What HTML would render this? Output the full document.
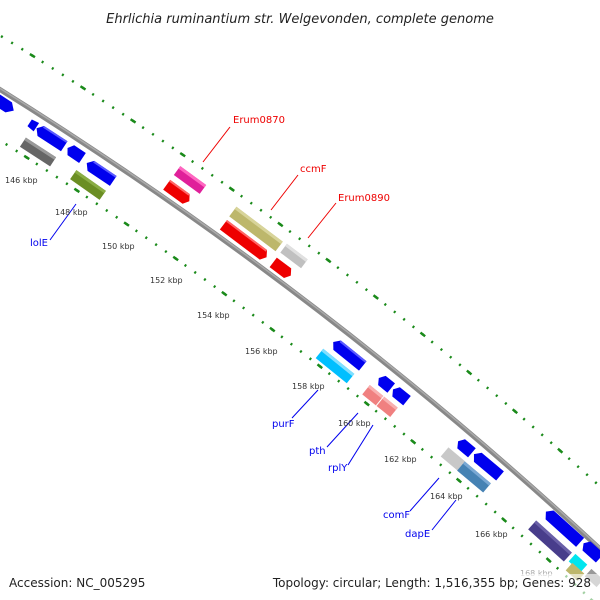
<!DOCTYPE html>
<html><head><meta charset="utf-8"><style>
html,body{margin:0;padding:0;background:#fff;width:600px;height:600px;overflow:hidden}
svg{display:block}
text{font-family:"DejaVu Sans","Liberation Sans",sans-serif}
</style></head><body>
<svg width="600" height="600" viewBox="0 0 600 600" xmlns="http://www.w3.org/2000/svg">
<defs>
<clipPath id="c"><rect x="0" y="0" width="600" height="600"/></clipPath>
</defs>
<g clip-path="url(#c)">
<circle cx="-2103" cy="3458" r="4017" fill="none" stroke="#1a8a1a" stroke-width="2.5" stroke-dasharray="2 10"/>
<circle cx="-2103" cy="3458" r="4017" fill="none" stroke="#1a8a1a" stroke-width="2.5" stroke-dasharray="6 54" stroke-dashoffset="2"/>
<circle cx="-2103" cy="3458" r="3928" fill="none" stroke="#1a8a1a" stroke-width="2.5" stroke-dasharray="2 10"/>
<circle cx="-2103" cy="3458" r="3928" fill="none" stroke="#1a8a1a" stroke-width="2.5" stroke-dasharray="6 54" stroke-dashoffset="2"/>
<circle cx="-2103" cy="3458" r="3971" fill="none" stroke="#888" stroke-width="5"/>
<circle cx="-2103" cy="3458" r="3972" fill="none" stroke="#aaa" stroke-width="1.5"/>

<g stroke="none">
<g transform="translate(2,103) rotate(33)"><polygon points="-14,-6 8,-6 14,0 8,6 -14,6" fill="#0000ee"/></g>
<g transform="translate(33,125) rotate(33)"><polygon points="-4,-4 4,-5 4,5 -4,4" fill="#0000ee"/></g>
<g transform="translate(50,137) rotate(33)"><polygon points="-16,0 -11,-6 17,-6 17,6 -11,6" fill="#0000ee"/><rect x="-11" y="-6" width="28" height="2" fill="#5a5aff"/></g>
<g transform="translate(75,153) rotate(34)"><polygon points="-9,0 -5,-6 9,-6 9,6 -5,6" fill="#0000ee"/></g>
<g transform="translate(100,172) rotate(34)"><polygon points="-16,0 -11,-6 16,-6 16,6 -11,6" fill="#0000ee"/><rect x="-11" y="-6" width="27" height="2" fill="#5a5aff"/></g>
<g transform="translate(38,152) rotate(33)"><rect x="-18" y="-5.5" width="36" height="11" fill="#666"/><rect x="-18" y="-5.5" width="36" height="3" fill="#999"/></g>
<g transform="translate(88,185) rotate(35)"><rect x="-18" y="-5.5" width="36" height="11" fill="#6b8e23"/><rect x="-18" y="-5.5" width="36" height="3" fill="#8aad44"/></g>
<g transform="translate(190,180) rotate(36)"><rect x="-16" y="-5.5" width="32" height="11" fill="#e0209a"/><rect x="-16" y="-5.5" width="32" height="3" fill="#ff66c0"/></g>
<g transform="translate(178,193) rotate(36)"><polygon points="-14,-6 10,-6 14,0 10,6 -14,6" fill="#ee0000"/><rect x="-14" y="-6" width="24" height="2" fill="#ff6666"/></g>
<g transform="translate(256,229) rotate(37)"><rect x="-29" y="-6" width="58" height="12" fill="#bdb76b"/><rect x="-29" y="-6" width="58" height="3" fill="#d8d49a"/></g>
<g transform="translate(245,241) rotate(37)"><polygon points="-27,-6 23,-6 27,0 23,6 -27,6" fill="#ee0000"/><rect x="-27" y="-6" width="50" height="2" fill="#ff6666"/></g>
<g transform="translate(294,256) rotate(37)"><rect x="-13" y="-5.5" width="26" height="11" fill="#c0c0c0"/><rect x="-13" y="-5.5" width="26" height="3" fill="#e0e0e0"/></g>
<g transform="translate(282,269) rotate(37)"><polygon points="-11,-6 7,-6 11,0 7,6 -11,6" fill="#ee0000"/></g>
<g transform="translate(348,354) rotate(39)"><polygon points="-19,0 -14,-6 19,-6 19,6 -14,6" fill="#0000ee"/><rect x="-14" y="-6" width="33" height="2" fill="#5a5aff"/></g>
<g transform="translate(335,366) rotate(39)"><rect x="-20" y="-6" width="40" height="12" fill="#00bfff"/><rect x="-20" y="-6" width="40" height="3" fill="#80dfff"/></g>
<g transform="translate(385,383) rotate(39)"><polygon points="-8,0 -4,-6 8,-6 8,6 -4,6" fill="#0000ee"/></g>
<g transform="translate(400,395) rotate(39)"><polygon points="-9,0 -5,-6 9,-6 9,6 -5,6" fill="#0000ee"/></g>
<g transform="translate(380,401) rotate(39)"><rect x="-18" y="-6" width="36" height="12" fill="#f08080"/><rect x="-18" y="-6" width="36" height="3" fill="#f8b0b0"/><rect x="-0.5" y="-6" width="1" height="12" fill="#fff"/></g>
<g transform="translate(465,447) rotate(40)"><polygon points="-9,0 -5,-6 9,-6 9,6 -5,6" fill="#0000ee"/></g>
<g transform="translate(487,465) rotate(40)"><polygon points="-17,0 -12,-6 17,-6 17,6 -12,6" fill="#0000ee"/></g>
<g transform="translate(453,459) rotate(40)"><rect x="-11" y="-6" width="22" height="12" fill="#c8c8c8"/></g>
<g transform="translate(474,477) rotate(40)"><rect x="-17" y="-6" width="34" height="12" fill="#4682b4"/><rect x="-17" y="-6" width="34" height="3" fill="#7aa8d4"/></g>
<g transform="translate(563,527) rotate(42)"><polygon points="-23,0 -18,-6 23,-6 23,6 -18,6" fill="#0000ee"/></g>
<g transform="translate(591,550) rotate(42)"><polygon points="-10,0 -6,-6 12,-6 12,6 -6,6" fill="#0000ee"/></g>
<g transform="translate(550,541) rotate(42)"><rect x="-24" y="-6" width="48" height="12" fill="#483d8b"/><rect x="-24" y="-6" width="48" height="3" fill="#6a60a8"/></g>
<g transform="translate(578,563) rotate(42)"><rect x="-8" y="-5" width="16" height="10" fill="#00e5ee"/></g>
<g transform="translate(575,572) rotate(42)"><rect x="-8" y="-5" width="16" height="10" fill="#bdb76b"/></g>
<g transform="translate(594,578) rotate(42)"><rect x="-8" y="-5" width="16" height="10" fill="#999"/></g>
</g>

<g stroke-width="1">
<line x1="230" y1="127" x2="203" y2="162" stroke="#e00"/>
<line x1="298" y1="175" x2="271" y2="210" stroke="#e00"/>
<line x1="336" y1="203" x2="308" y2="238" stroke="#e00"/>
<line x1="50" y1="240" x2="76" y2="204" stroke="#00e"/>
<line x1="292" y1="418" x2="318" y2="390" stroke="#00e"/>
<line x1="327" y1="447" x2="358" y2="413" stroke="#00e"/>
<line x1="348" y1="465" x2="373" y2="425" stroke="#00e"/>
<line x1="410" y1="511" x2="439" y2="478" stroke="#00e"/>
<line x1="432" y1="530" x2="456" y2="500" stroke="#00e"/>
</g>
<g font-size="10">
<text x="233" y="123" fill="#e00">Erum0870</text>
<text x="300" y="172" fill="#e00">ccmF</text>
<text x="338" y="201" fill="#e00">Erum0890</text>
<text x="30" y="246" fill="#00e">lolE</text>
<text x="272" y="427" fill="#00e">purF</text>
<text x="309" y="454" fill="#00e">pth</text>
<text x="328" y="471" fill="#00e">rplY</text>
<text x="383" y="518" fill="#00e">comF</text>
<text x="405" y="537" fill="#00e">dapE</text>
</g>
<g font-size="8" fill="#333">
<text x="5" y="183">146 kbp</text>
<text x="55" y="215">148 kbp</text>
<text x="102" y="249">150 kbp</text>
<text x="150" y="283">152 kbp</text>
<text x="197" y="318">154 kbp</text>
<text x="245" y="354">156 kbp</text>
<text x="292" y="389">158 kbp</text>
<text x="338" y="426">160 kbp</text>
<text x="384" y="462">162 kbp</text>
<text x="430" y="499">164 kbp</text>
<text x="475" y="537">166 kbp</text>
<text x="520" y="576" fill="#aaa">168 kbp</text>
</g>
</g>
<rect x="0" y="574" width="600" height="26" fill="#fff" opacity="0.6"/>
<text x="300" y="23" font-size="13" font-style="italic" text-anchor="middle" fill="#222">Ehrlichia ruminantium str. Welgevonden, complete genome</text>
<text x="9" y="587" font-size="12" fill="#222">Accession: NC_005295</text>
<text x="591" y="587" font-size="12" fill="#222" text-anchor="end">Topology: circular; Length: 1,516,355 bp; Genes: 928</text>
</svg>
</body></html>
